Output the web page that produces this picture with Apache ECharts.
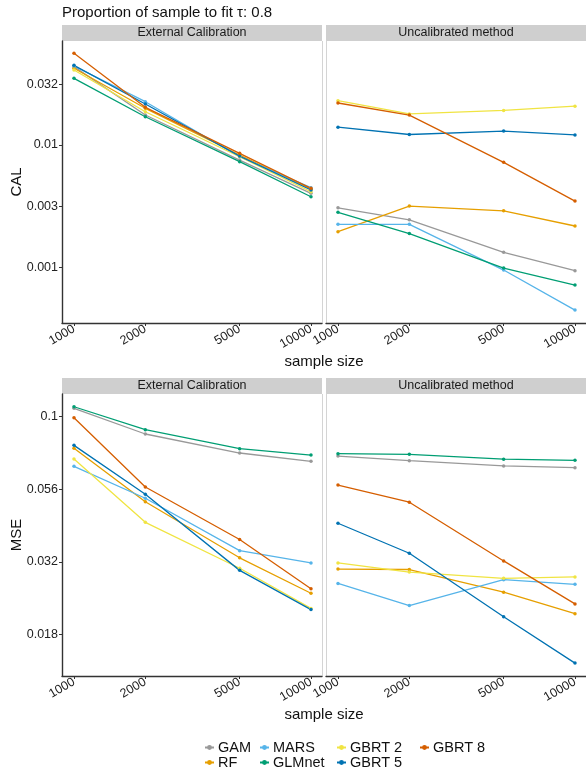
<!DOCTYPE html>
<html>
<head>
<meta charset="utf-8">
<script src="https://cdn.jsdelivr.net/npm/echarts@6/dist/echarts.min.js"></script>
<style>
  html, body { margin: 0; padding: 0; background: #fff; }
  #chart { width: 586px; height: 771px; }
</style>
</head>
<body>
<div id="chart"></div>
<script>
const methods = ['GAM', 'RF', 'MARS', 'GLMnet', 'GBRT 2', 'GBRT 5', 'GBRT 8'];
const colors = ['#999999', '#E69F00', '#56B4E9', '#009E73', '#F0E442', '#0072B2', '#D55E00'];
const sampleSizes = [1000, 2000, 5000, 10000];
const panelTitles = ['External Calibration', 'Uncalibrated method'];
const calTicks = [0.001, 0.00316, 0.01, 0.0316];
const mseTicks = [0.01778, 0.03162, 0.05623, 0.1];

// one row per method, same order as `methods`
const calExternal = [
  [0.0439, 0.01763, 0.00753, 0.00402],
  [0.0426, 0.0200, 0.00828, 0.00434],
  [0.0444, 0.02265, 0.00802, 0.00447],
  [0.0352, 0.01706, 0.00730, 0.00377],
  [0.0412, 0.01875, 0.00802, 0.00414],
  [0.0450, 0.02168, 0.00812, 0.00428],
  [0.0564, 0.02037, 0.00855, 0.00442]
];
const calUncal = [
  [0.00306, 0.00244, 0.00132, 0.000933],
  [0.00195, 0.00316, 0.00289, 0.00217],
  [0.00224, 0.00224, 0.000945, 0.000444],
  [0.00281, 0.00188, 0.000982, 0.000712],
  [0.0231, 0.0180, 0.0192, 0.0208],
  [0.0140, 0.0122, 0.0130, 0.0121],
  [0.0221, 0.0176, 0.00721, 0.00347]
];
const mseExternal = [
  [0.1069, 0.0872, 0.0750, 0.0702],
  [0.0779, 0.0510, 0.0327, 0.0247],
  [0.0675, 0.0524, 0.0346, 0.0314],
  [0.1082, 0.0902, 0.0776, 0.0738],
  [0.0715, 0.0433, 0.0301, 0.0219],
  [0.0797, 0.0541, 0.0296, 0.0217],
  [0.0992, 0.0573, 0.0378, 0.0256]
];
const mseUncal = [
  [0.0732, 0.0706, 0.0677, 0.0668],
  [0.0299, 0.0298, 0.0249, 0.0210],
  [0.0267, 0.0224, 0.0275, 0.0265],
  [0.0746, 0.0742, 0.0714, 0.0708],
  [0.0314, 0.0292, 0.0278, 0.0281],
  [0.0430, 0.0339, 0.0205, 0.0142],
  [0.0582, 0.0508, 0.0319, 0.0227]
];

const font = "'Liberation Sans', Arial, sans-serif";
const ink = '#333';
const gridLeft = [62, 326];
const gridTop = [41, 394];
const panelW = 260, panelH = 282;

const panels = [
  { data: calExternal, row: 0, col: 0 },
  { data: calUncal, row: 0, col: 1 },
  { data: mseExternal, row: 1, col: 0 },
  { data: mseUncal, row: 1, col: 1 }
];
const yRange = [[0.000348, 0.0712], [0.01282, 0.1197]];
const yTicks = [calTicks, mseTicks];

const grid = [], xAxis = [], yAxis = [], series = [];
panels.forEach((p, idx) => {
  grid.push({ left: gridLeft[p.col], top: gridTop[p.row], width: panelW, height: panelH });
  xAxis.push({
    type: 'log', gridIndex: idx, min: 890, max: 11130,
    splitLine: { show: false },
    axisLine: { lineStyle: { color: ink, width: 1.4 } },
    axisTick: { customValues: sampleSizes, length: 3, lineStyle: { color: ink } },
    axisLabel: {
      customValues: sampleSizes, rotate: 30, margin: 5,
      color: '#222', fontSize: 12.5, fontFamily: font,
      formatter: v => String(Math.round(v))
    }
  });
  const left = p.col === 0;
  yAxis.push({
    type: 'log', gridIndex: idx,
    min: yRange[p.row][0], max: yRange[p.row][1],
    splitLine: { show: false },
    axisLine: { show: true, lineStyle: { color: left ? ink : '#d4d4d4', width: left ? 1.4 : 1 } },
    axisTick: { show: left, customValues: yTicks[p.row], length: 3, lineStyle: { color: ink } },
    axisLabel: {
      show: left, customValues: yTicks[p.row], margin: 4,
      color: '#222', fontSize: 12.5, fontFamily: font,
      formatter: v => String(+v.toFixed(3))
    }
  });
  methods.forEach((m, i) => {
    series.push({
      type: 'line', name: m, xAxisIndex: idx, yAxisIndex: idx,
      data: sampleSizes.map((s, k) => [s, p.data[i][k]]),
      color: colors[i], symbol: 'circle', symbolSize: 3.5,
      lineStyle: { width: 1.3 }, animation: false, silent: true
    });
  });
});

const graphic = [];
[0, 1].forEach(row => {
  [0, 1].forEach(col => {
    graphic.push({
      type: 'rect', shape: { x: gridLeft[col], y: gridTop[row] - 16, width: panelW, height: 16 },
      style: { fill: '#cfcfcf' }
    });
    graphic.push({
      type: 'text', x: gridLeft[col] + panelW / 2, y: gridTop[row] - 8,
      style: { text: panelTitles[col], fill: '#1a1a1a', font: '12.5px ' + font, textAlign: 'center', textVerticalAlign: 'middle' }
    });
  });
  graphic.push({
    type: 'line', shape: { x1: 322.5, y1: gridTop[row], x2: 322.5, y2: gridTop[row] + panelH },
    style: { stroke: '#d4d4d4', lineWidth: 1 }
  });
  graphic.push({
    type: 'text', x: 324, y: gridTop[row] + panelH + 39,
    style: { text: 'sample size', fill: '#111', font: '15px ' + font, textAlign: 'center', textVerticalAlign: 'middle' }
  });
  graphic.push({
    type: 'text', x: 17, y: gridTop[row] + panelH / 2, rotation: Math.PI / 2,
    style: { text: row === 0 ? 'CAL' : 'MSE', fill: '#111', font: '15px ' + font, textAlign: 'center', textVerticalAlign: 'middle' }
  });
});
graphic.push({
  type: 'text', x: 62, y: 13,
  style: { text: 'Proportion of sample to fit τ: 0.8', fill: '#111', font: '15px ' + font, textAlign: 'left', textVerticalAlign: 'middle' }
});

const legendCols = [['GAM', 'RF'], ['MARS', 'GLMnet'], ['GBRT 2', 'GBRT 5'], ['GBRT 8']];
const legendLeft = [204, 259, 336, 419];
const legend = legendCols.map((d, i) => ({
  data: d, orient: 'vertical', left: legendLeft[i], top: 740, padding: 0,
  itemGap: 0, itemWidth: 9, itemHeight: 6,
  textStyle: { fontSize: 14.5, fontFamily: font, color: '#111', lineHeight: 13.5, padding: [0, 0, 0, -1] },
  selectedMode: false
}));

const chart = echarts.init(document.getElementById('chart'));
chart.setOption({
  backgroundColor: '#fff',
  animation: false,
  grid, xAxis, yAxis, series, legend, graphic
});
</script>
</body>
</html>
